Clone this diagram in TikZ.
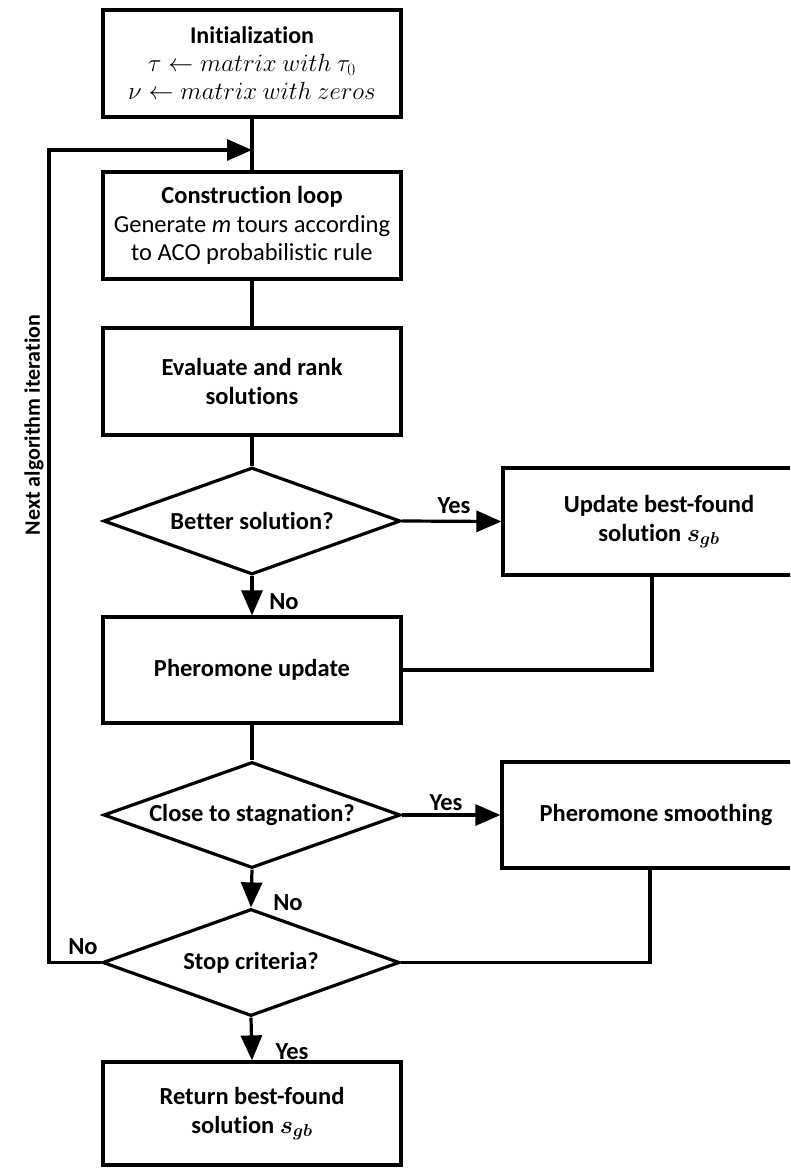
\documentclass[tikz,border=0pt]{standalone}
\usepackage{bm}
\usepackage{fontspec}
\setmainfont{Carlito}[Ligatures={NoCommon,NoRare,NoContextual}]
\usetikzlibrary{shapes.geometric,arrows.meta,calc}
\begin{document}
\begin{tikzpicture}[x=1pt,y=-1pt,
  fbox/.style={draw,line width=3.2pt,rectangle,minimum width=298pt,minimum height=107pt,inner sep=0pt,align=center,font=\fontsize{24.5}{29}\selectfont\bfseries},
  ddia/.style={draw,diamond,aspect=2.78,line width=3.2pt,minimum width=297pt,minimum height=107pt,inner sep=0pt,align=center,font=\fontsize{24.5}{29}\selectfont\bfseries},
  lab/.style={inner sep=0pt,font=\fontsize{24.5}{29}\selectfont\bfseries},
  conn/.style={line width=3.2pt},
  arr/.style={conn,-{Triangle[length=25pt,width=21pt]}}]
\useasboundingbox (0,0) rectangle (790,1169);
\clip (0,0) rectangle (790,1169);

\node[fbox,font=\fontsize{24}{28}\selectfont] (init) at (252,63.5) {\textbf{Initialization}\\ $\tau \leftarrow matrix\ with\ \tau_0$\\ $\nu \leftarrow matrix\ with\ zeros$};
\node[fbox,font=\fontsize{24.5}{28.5}\selectfont] (loop) at (252,225.5) {\textbf{Construction loop}\\ Generate \textit{m} tours according\\ to ACO probabilistic rule};
\node[fbox] (eval) at (252,381.5) {Evaluate and rank\\ solutions};
\node[ddia] (better) at (252,521) {Better solution?};
\node[fbox,minimum width=312pt,minimum height=107pt] (update) at (659,521.5) {Update best-found\\ solution $\bm{s_{gb}}$};
\node[fbox,minimum height=106pt] (pupd) at (252,670) {Pheromone update};
\node[ddia,minimum height=106pt] (close) at (252,815) {Close to stagnation?};
\node[fbox,minimum width=308pt,minimum height=106pt] (smooth) at (656,815) {Pheromone smoothing};
\node[ddia] (stop) at (251,962.5) {Stop criteria?};
\node[fbox,minimum height=103pt] (ret) at (252,1113.5) {Return best-found\\ solution $\bm{s_{gb}}$};

\coordinate (join) at (252,150);
\coordinate (lc) at (49,150);

\draw[conn] (init.south) -- (loop.north);
\draw[conn] (loop.south) -- (eval.north);
\draw[conn] (eval.south) -- (better.north);
\draw[arr] (better.south) -- (pupd.north);
\draw[arr] (better.east) -- (update.west);
\draw[conn] ([xshift=-7pt]update.south) |- (pupd.east);
\draw[conn] (pupd.south) -- (close.north);
\draw[arr] (close.east) -- (smooth.west);
\draw[arr] (close.south) -- (stop.north);
\draw[conn] ([xshift=-6pt]smooth.south) |- (stop.east);
\draw[arr] (stop.south) -- (ret.north);
\draw[arr] (stop.west) -| (lc) -- (join);

\node[lab] (l1) at (284,602) {No};
\node[lab] (l2) at (454,506) {Yes};
\node[lab] (l3) at (446,803) {Yes};
\node[lab] (l4) at (288,903) {No};
\node[lab] (l5) at (292,1052) {Yes};
\node[lab] (l6) at (83,947) {No};
\node[lab,rotate=90,font=\fontsize{22}{26}\selectfont\bfseries] (nai) at (34,425) {Next algorithm iteration};
\end{tikzpicture}
\end{document}
